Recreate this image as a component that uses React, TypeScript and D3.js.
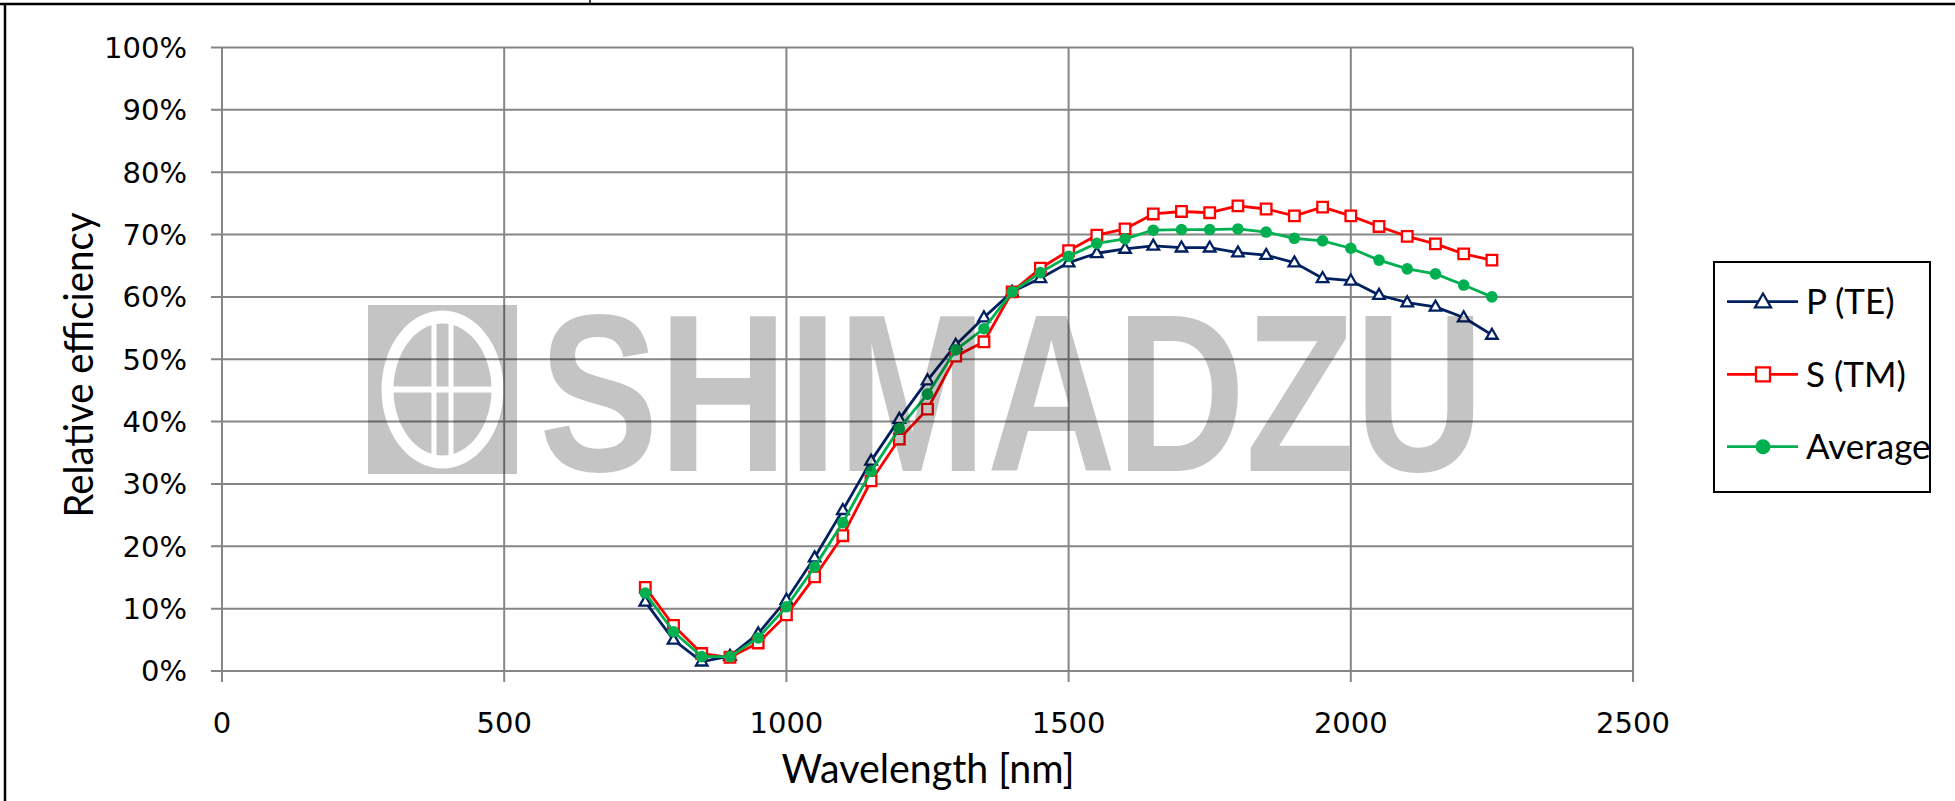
import React from "react";
import * as d3 from "d3";

const wavelengths = [750, 800, 850, 900, 950, 1000, 1050, 1100, 1150, 1200, 1250, 1300, 1350, 1400, 1450, 1500, 1550, 1600, 1650, 1700, 1750, 1800, 1850, 1900, 1950, 2000, 2050, 2100, 2150, 2200, 2250];
const pTE = [11.1, 5.0, 1.5, 2.4, 6.0, 11.4, 18.2, 25.8, 33.7, 40.4, 46.6, 52.3, 56.7, 60.8, 63.0, 65.5, 67.0, 67.7, 68.2, 67.9, 67.9, 67.1, 66.7, 65.5, 63.0, 62.6, 60.3, 59.1, 58.4, 56.7, 53.9];
const sTM = [13.4, 7.3, 2.8, 2.2, 4.5, 9.0, 15.1, 21.7, 30.5, 37.2, 42.0, 50.5, 52.8, 60.8, 64.6, 67.4, 69.9, 70.9, 73.3, 73.7, 73.5, 74.6, 74.1, 73.0, 74.4, 73.0, 71.3, 69.7, 68.5, 66.9, 65.9];
const average = [12.5, 6.3, 2.3, 2.3, 5.3, 10.3, 16.7, 23.8, 32.0, 38.9, 44.4, 51.5, 54.9, 60.8, 63.9, 66.5, 68.6, 69.3, 70.7, 70.8, 70.8, 70.9, 70.4, 69.4, 69.0, 67.8, 65.9, 64.5, 63.7, 61.9, 60.0];
const xTicks = [0, 500, 1000, 1500, 2000, 2500];
const yTicks = [0, 10, 20, 30, 40, 50, 60, 70, 80, 90, 100];
const seriesNames = ["P (TE)", "S (TM)", "Average"];

const W = 1955;
const H = 801;
const x = d3.scaleLinear().domain([0, 2500]).range([222, 1633]);
const y = d3.scaleLinear().domain([0, 100]).range([671, 47.5]);

const GRID = "#868686";
const NAVY = "#002060";
const RED = "#FF0000";
const GREEN = "#00B050";
const CAL = "Lato, 'Open Sans', sans-serif";
const TICKF = "'DejaVu Sans', Verdana, sans-serif";

type Kind = "tri" | "sq" | "circ";

function Marker({ kind, cx, cy, big }: { kind: Kind; cx: number; cy: number; big?: boolean }) {
  if (kind === "tri") {
    const p = d3.symbol(d3.symbolTriangle, big ? 110 : 58)();
    return <path d={p || ""} transform={`translate(${cx},${cy + (big ? 1 : 0.5)})`} fill="#fff" stroke={NAVY} strokeWidth={2.3} />;
  }
  if (kind === "sq") {
    const p = d3.symbol(d3.symbolSquare, big ? 196 : 112)();
    return <path d={p || ""} transform={`translate(${cx},${cy})`} fill="#fff" stroke={RED} strokeWidth={2.3} />;
  }
  return <circle cx={cx} cy={cy} r={big ? 7.5 : 5.8} fill={GREEN} />;
}

export default function App() {
  const series = [
    { name: seriesNames[0], vals: pTE, color: NAVY, kind: "tri" as Kind },
    { name: seriesNames[1], vals: sTM, color: RED, kind: "sq" as Kind },
    { name: seriesNames[2], vals: average, color: GREEN, kind: "circ" as Kind },
  ];
  const line = d3
    .line<number>()
    .x((_, i) => x(wavelengths[i]))
    .y((v) => y(v));

  const legendYs = [301.7, 374.3, 446.7];
  const lcx = 442.5;
  const lcy = 389.5;

  return (
    <svg width={W} height={H} style={{ position: "absolute", left: 0, top: 0, background: "#fff" }}>
      <defs>
        <mask id="logoMask" maskUnits="userSpaceOnUse" x={0} y={0} width={W} height={H}>
          <rect x={368} y={305} width={149} height={169} fill="#fff" />
          <ellipse cx={lcx} cy={lcy} rx={61} ry={79} fill="#000" />
          <ellipse cx={lcx} cy={lcy} rx={49} ry={66} fill="#fff" />
          <rect x={lcx - 52} y={lcy - 3} width={104} height={6} fill="#000" />
          <rect x={lcx - 11} y={lcy - 68} width={5} height={136} fill="#000" />
          <rect x={lcx + 6} y={lcy - 68} width={5} height={136} fill="#000" />
        </mask>
      </defs>
      <rect x={0} y={0} width={W} height={H} fill="#fff" />
      {/* frame */}
      <line x1={0} x2={W} y1={4} y2={4} stroke="#000" strokeWidth={2.5} />
      <line x1={590} x2={590} y1={0} y2={4} stroke="#000" strokeWidth={1.5} />
      <line x1={5} x2={5} y1={4} y2={H} stroke="#000" strokeWidth={2.5} />

      {/* horizontal gridlines + y ticks */}
      {yTicks.map((t) => (
        <line key={"h" + t} x1={211} x2={x(2500)} y1={y(t)} y2={y(t)} stroke={GRID} strokeWidth={2} />
      ))}
      {/* vertical gridlines + x ticks */}
      {xTicks.map((t) => (
        <line key={"v" + t} x1={x(t)} x2={x(t)} y1={y(100)} y2={682} stroke={GRID} strokeWidth={2} />
      ))}

      {/* y tick labels */}
      {yTicks.map((t) => (
        <text key={"yl" + t} x={187} y={y(t)} dy="0.36em" textAnchor="end" fontFamily={TICKF} fontSize={29} fill="#000">
          {d3.format(".0%")(t / 100)}
        </text>
      ))}
      {/* x tick labels */}
      {xTicks.map((t) => (
        <text key={"xl" + t} x={x(t)} y={733} textAnchor="middle" fontFamily={TICKF} fontSize={29} fill="#000">
          {t}
        </text>
      ))}

      {/* axis titles */}
      <text x={928} y={783} textAnchor="middle" fontFamily={CAL} fontSize={40} textLength={293} lengthAdjust="spacingAndGlyphs" fill="#000">
        Wavelength [nm]
      </text>
      <text transform="translate(93,365) rotate(-90)" textAnchor="middle" fontFamily={CAL} fontSize={40} textLength={305} lengthAdjust="spacingAndGlyphs" fill="#000">
        Relative efficiency
      </text>

      {/* series */}
      {series.map((s) => (
        <g key={s.name}>
          <path d={line(s.vals) || ""} fill="none" stroke={s.color} strokeWidth={2.8} strokeLinejoin="round" />
          {s.vals.map((v, i) => (
            <Marker key={i} kind={s.kind} cx={x(wavelengths[i])} cy={y(v)} />
          ))}
        </g>
      ))}

      {/* watermark */}
      <g fill="#000" fillOpacity={0.23}>
        <rect x={368} y={305} width={149} height={169} mask="url(#logoMask)" />
        <text x={539} y={471} fontFamily="'Liberation Sans', Arial, sans-serif" fontWeight="bold" fontSize={224} textLength={945} lengthAdjust="spacingAndGlyphs">
          SHIMADZU
        </text>
      </g>

      {/* legend */}
      <rect x={1714} y={262} width={216} height={230} fill="#fff" stroke="#000" strokeWidth={2} />
      {series.map((s, i) => (
        <g key={"lg" + s.name}>
          <line x1={1727} x2={1798} y1={legendYs[i]} y2={legendYs[i]} stroke={s.color} strokeWidth={2.8} />
          <Marker kind={s.kind} cx={1763} cy={legendYs[i]} big />
          <text x={1806} y={legendYs[i]} dy="0.36em" fontFamily={CAL} fontSize={35} fill="#000">
            {s.name}
          </text>
        </g>
      ))}
    </svg>
  );
}
